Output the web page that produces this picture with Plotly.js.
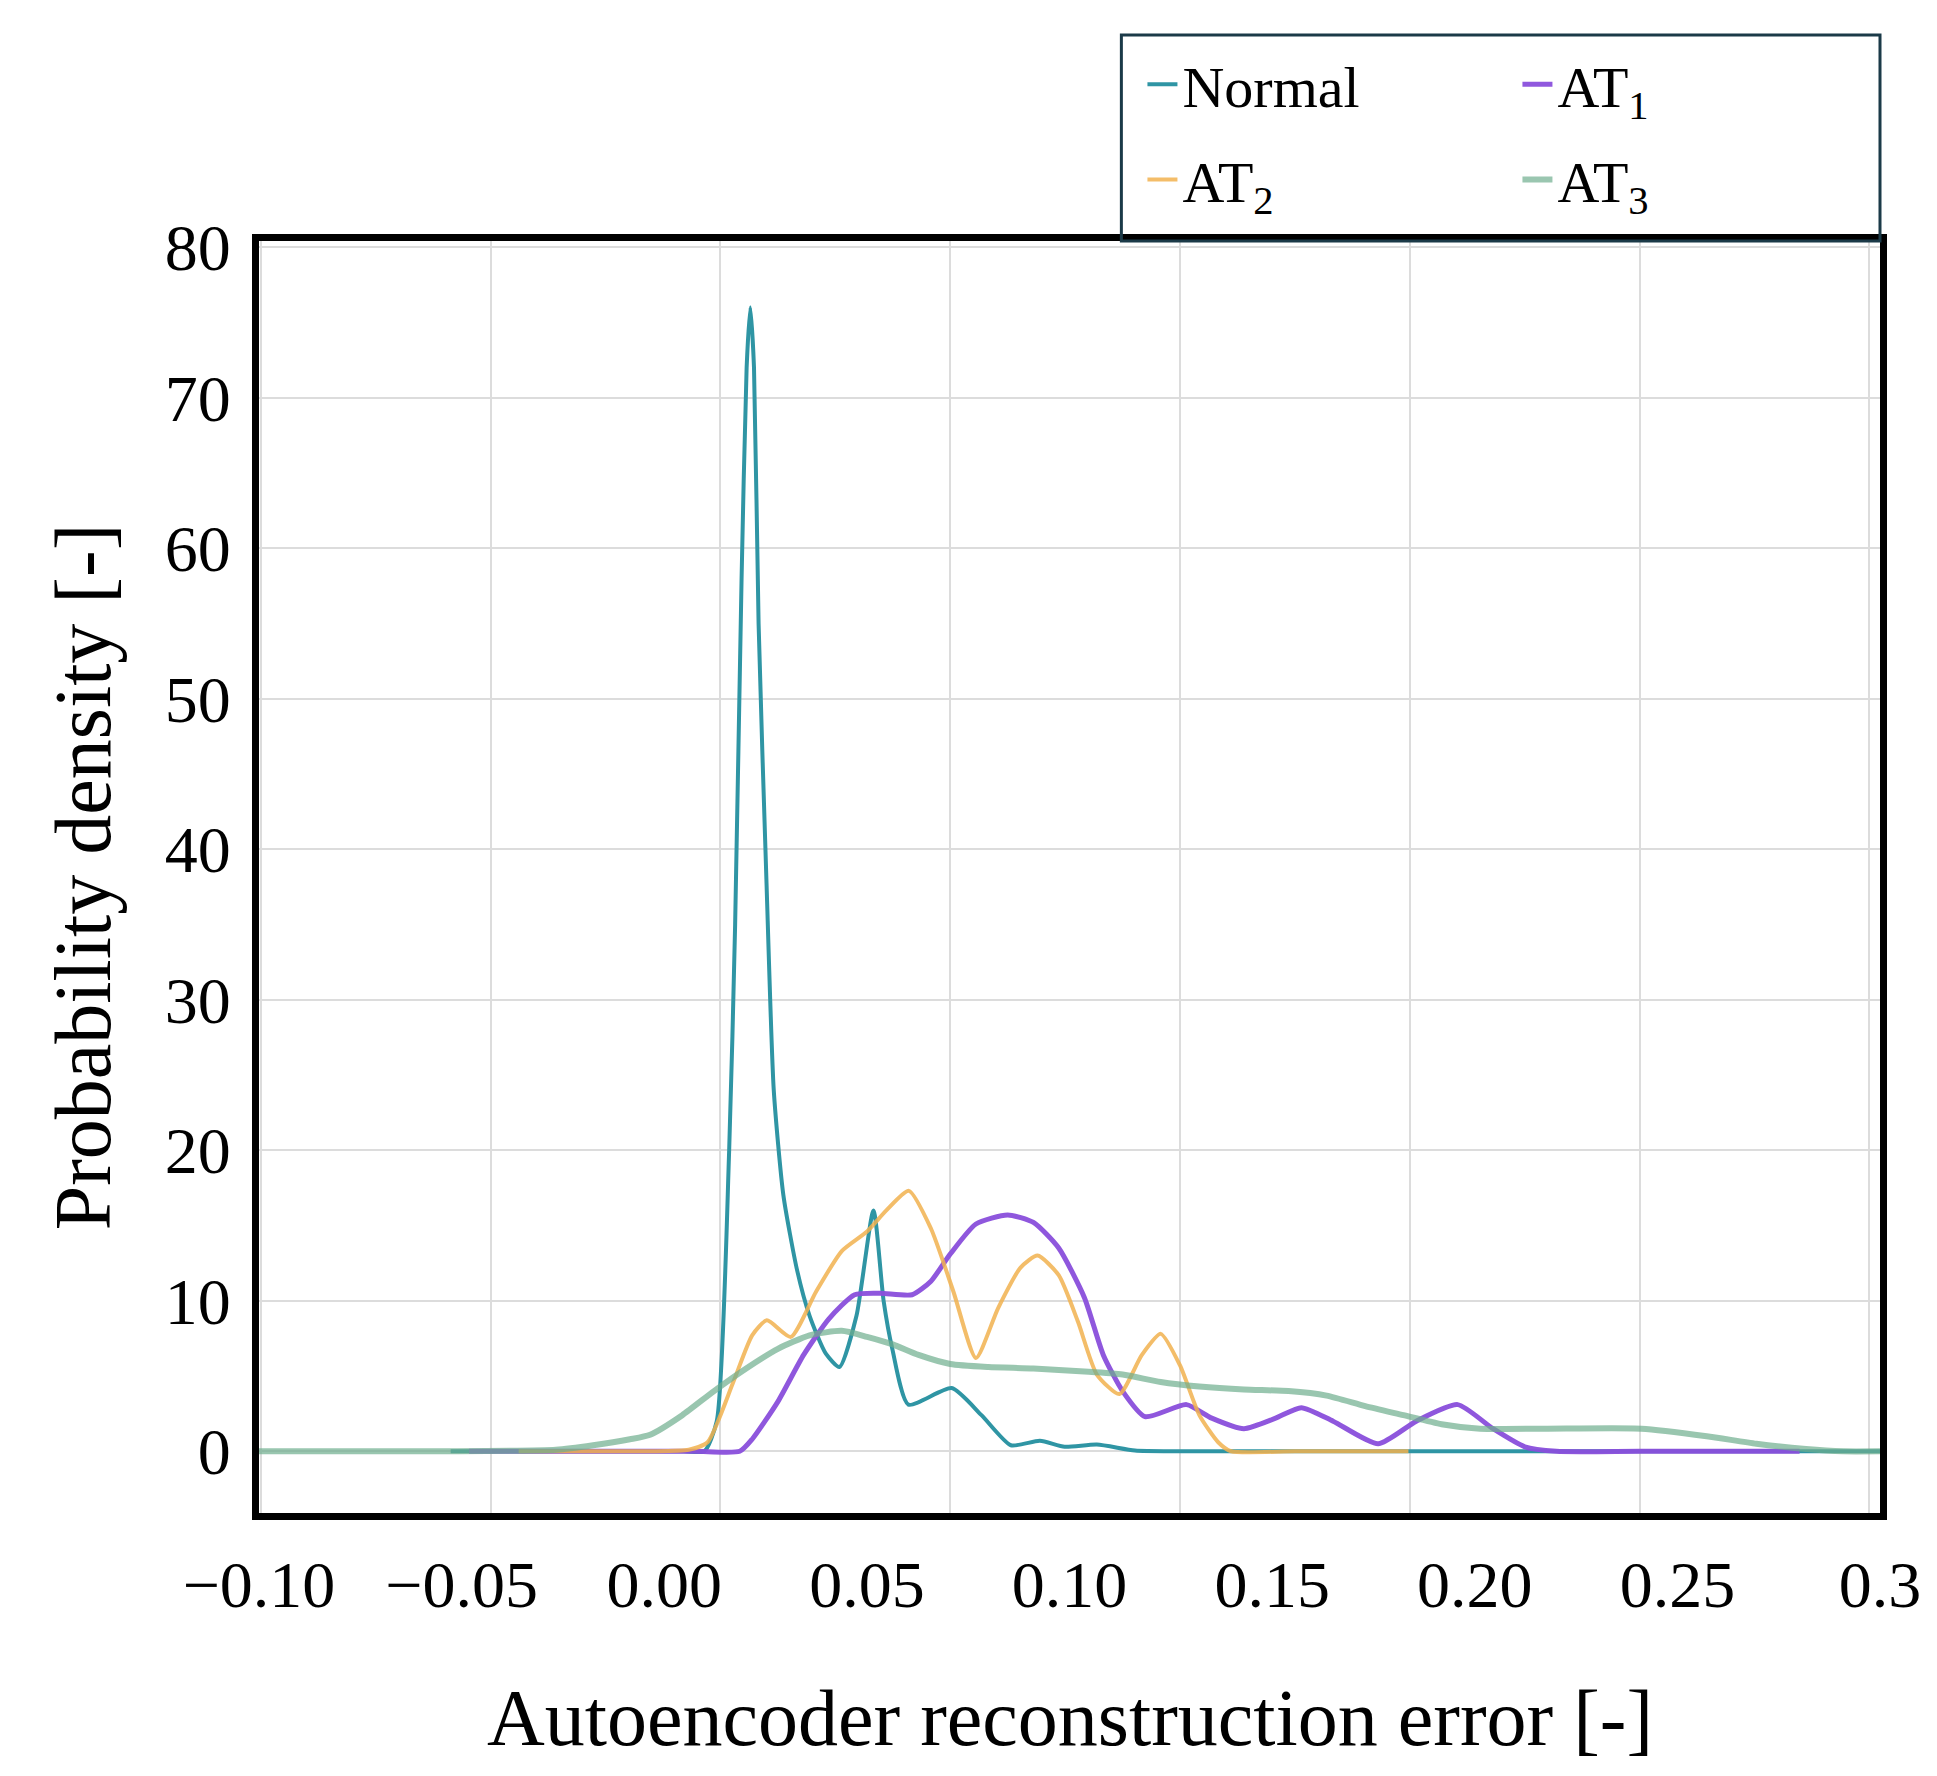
<!DOCTYPE html>
<html>
<head>
<meta charset="utf-8">
<script src="https://cdn.plot.ly/plotly-3.0.1.min.js"></script>
<style>body{margin:0;background:#fff}#chart{width:1937px;height:1776px}</style>
</head>
<body>
<div id="chart"></div>
<script>
// KDE curves (x in grid units, y = density)
const normalX = [-0.0587, -0.04, -0.02, -0.008, -0.0035, -0.0008, 0.0019, 0.0032, 0.0046, 0.0057, 0.0065, 0.0073, 0.0083, 0.0100, 0.0116, 0.0137, 0.0167, 0.0194, 0.0229, 0.0259, 0.0296, 0.0333, 0.0355, 0.0374, 0.0409, 0.0503, 0.0568, 0.0632, 0.0695, 0.0749, 0.0819, 0.0902, 0.0999, 0.15, 0.2523];
const normalY = [0, 0, 0, 0, 0, 2, 20, 35, 58, 72, 76, 72, 55, 38, 24, 17, 12, 9, 6.5, 5.6, 9, 16, 10, 6.8, 3.1, 4.2, 2.4, 0.4, 0.7, 0.3, 0.45, 0.05, 0, 0, 0];

const at1X = [-0.0547, -0.03, -0.0056, 0.0042, 0.0069, 0.0125, 0.0181, 0.0236, 0.0292, 0.0347, 0.0417, 0.0458, 0.05, 0.0556, 0.0625, 0.0681, 0.0736, 0.0792, 0.0833, 0.0875, 0.0924, 0.1014, 0.1069, 0.1139, 0.1208, 0.1264, 0.1333, 0.1431, 0.1514, 0.1604, 0.1681, 0.1750, 0.1819, 0.2, 0.2348];
const at1Y = [0, 0, 0, 0, 0.8, 3.3, 6.4, 8.8, 10.4, 10.5, 10.4, 11.3, 13.1, 15.1, 15.7, 15.2, 13.5, 10.2, 6.4, 4, 2.3, 3.1, 2.2, 1.5, 2.2, 2.9, 2, 0.5, 2, 3.1, 1.5, 0.3, 0, 0, 0];

const at2X = [-0.0439, -0.03, -0.0153, -0.0069, -0.0028, 0.0028, 0.0069, 0.0101, 0.0153, 0.0208, 0.0264, 0.0319, 0.0361, 0.0410, 0.0458, 0.0507, 0.0556, 0.0604, 0.0653, 0.0690, 0.0736, 0.0778, 0.0819, 0.0868, 0.0917, 0.0958, 0.1000, 0.1042, 0.1083, 0.1111, 0.125, 0.1497];
const at2Y = [0, 0, 0, 0.1, 0.6, 4.6, 7.7, 8.7, 7.6, 10.6, 13.3, 14.6, 16, 17.3, 14.8, 10.6, 6.2, 9.5, 12.2, 13, 11.7, 8.6, 5.1, 3.8, 6.4, 7.8, 5.7, 2.4, 0.6, 0, 0, 0];

const at3X = [-0.1004, -0.06, -0.0358, -0.0277, -0.0197, -0.0153, -0.0083, -0.0014, 0.0056, 0.0125, 0.0194, 0.0264, 0.0319, 0.0375, 0.0431, 0.05, 0.0583, 0.0681, 0.0792, 0.0875, 0.0958, 0.1042, 0.1139, 0.1236, 0.1319, 0.1403, 0.1486, 0.1569, 0.1653, 0.1792, 0.2004, 0.2146, 0.2254, 0.2362, 0.2443, 0.2523];
const at3Y = [0, 0, 0.1, 0.4, 0.8, 1.1, 2.4, 4, 5.5, 6.8, 7.7, 8.0, 7.6, 7.1, 6.4, 5.8, 5.6, 5.5, 5.3, 5.1, 4.6, 4.3, 4.1, 4.0, 3.7, 3.0, 2.4, 1.8, 1.5, 1.5, 1.5, 1.0, 0.5, 0.15, 0, 0];

// printed tick labels (they sit on their own scale, not on the grid)
const labelVals = [-0.10, -0.05, 0.00, 0.05, 0.10, 0.15, 0.20, 0.25, 0.30];
const labelText = ['\u22120.10', '\u22120.05', '0.00', '0.05', '0.10', '0.15', '0.20', '0.25', '0.3'];
const yTicks = [0, 10, 20, 30, 40, 50, 60, 70, 80];

const FONT = 'Liberation Serif, Times New Roman, serif';

function curve(name, x, y, color, width, opacity, legend) {
  return {
    type: 'scatter', mode: 'lines', name: name, x: x, y: y, legend: legend,
    line: { color: color, width: width, shape: 'spline', smoothing: 0.6 },
    opacity: opacity,
  };
}

const traces = [
  curve('Normal', normalX, normalY, '#2f95a4', 4, 1, 'legend'),
  curve('AT<sub>1</sub>', at1X, at1Y, '#8a4fdc', 5, 0.95, 'legend'),
  curve('AT<sub>2</sub>', at2X, at2Y, '#f2b24f', 4, 0.85, 'legend2'),
  curve('AT<sub>3</sub>', at3X, at3Y, '#6fae8e', 6, 0.7, 'legend2'),
];
// dummy trace to carry the printed label axis
traces.push({ type: 'scatter', x: [-0.1, 0.3], y: [null, null], xaxis: 'x2', showlegend: false, hoverinfo: 'skip' });

const legendBase = {
  orientation: 'h', x: 0.545, xanchor: 'left', yanchor: 'top',
  entrywidth: 330, bgcolor: 'rgba(0,0,0,0)', borderwidth: 0,
  font: { size: 58 }, traceorder: 'normal',
};

const layout = {
  width: 1937, height: 1776,
  paper_bgcolor: '#fff', plot_bgcolor: '#fff',
  font: { family: FONT, color: '#000', size: 66 },
  margin: { l: 259, r: 57, t: 241, b: 263 },
  xaxis: {
    range: [-0.1004, 0.2523], dtick: 0.05, tick0: 0,
    showticklabels: false, ticks: '',
    gridcolor: '#dcdcdc', gridwidth: 2, zeroline: false,
    showline: true, mirror: true, linecolor: '#000', linewidth: 7,
  },
  xaxis2: {
    overlaying: 'x', side: 'bottom', range: [-0.1, 0.3],
    tickvals: labelVals, ticktext: labelText, showgrid: false, zeroline: false,
    ticks: 'outside', ticklen: 14, tickcolor: 'rgba(0,0,0,0)', tickfont: { size: 66 }, showline: false,
  },
  yaxis: {
    range: [-4.1, 80.4], tickvals: yTicks,
    gridcolor: '#dcdcdc', gridwidth: 2, zeroline: false, ticks: 'outside', ticklen: 8, tickcolor: 'rgba(0,0,0,0)',
    tickfont: { size: 66 },
    showline: true, mirror: true, linecolor: '#000', linewidth: 7,
    title: { text: 'Probability density [-]', font: { size: 80 }, standoff: 30 },
  },
  annotations: [{
    text: 'Autoencoder reconstruction error [-]', xref: 'paper', yref: 'paper',
    x: 0.5, y: -0.125, yanchor: 'top', showarrow: false, font: { size: 80 },
  }],
  shapes: [{
    type: 'rect', xref: 'paper', yref: 'paper', x0: 0.532, x1: 1.0, y0: 1.0, y1: 1.162,
    line: { color: '#1b3a48', width: 3 }, fillcolor: 'rgba(0,0,0,0)', layer: 'above',
  }],
  showlegend: true,
  legend: { ...legendBase, y: 1.158 },
  legend2: { ...legendBase, y: 1.083 },
};

Plotly.newPlot('chart', traces, layout, { displayModeBar: false });
</script>
</body>
</html>
